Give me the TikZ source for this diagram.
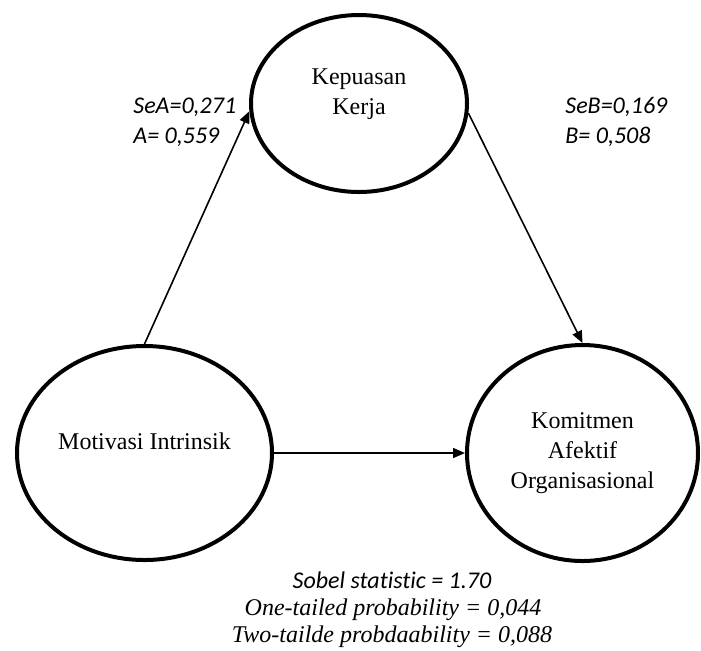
\documentclass[tikz,border=0pt]{standalone}
\usepackage{fontspec}
\setmainfont{Liberation Serif}
\newfontfamily\calibri[Ligatures=NoCommon]{Carlito}
\usepackage{tikz}
\usetikzlibrary{shapes,arrows.meta}

\begin{document}
\begin{tikzpicture}[x=0.5pt,y=-0.5pt,>={Triangle[length=6pt,width=5pt]}]
		\tikzstyle{latent}=[ellipse,draw,line width=2pt,inner sep=0pt,align=center,text centered,font=\fontsize{12pt}{15pt}\selectfont]
		\tikzstyle{effect}=[->,line width=0.8pt]
		\tikzstyle{coef}=[anchor=base west,inner sep=0pt,font=\calibri\itshape\fontsize{12pt}{15pt}\selectfont]
		\tikzstyle{note}=[anchor=base,inner sep=0pt,font=\fontsize{12pt}{15pt}\selectfont\itshape]
		\useasboundingbox (0,0) rectangle (701,650);
		
		\node[latent,minimum width=108pt,minimum height=88.5pt,text depth=12pt] (kep) at (359,103.5) {Kepuasan\\Kerja};
		\node[latent,minimum width=127.5pt,minimum height=107pt,text depth=12pt] (mot) at (144.5,453) {Motivasi Intrinsik};
		\node[latent,minimum width=115.5pt,minimum height=108pt] (kom) at (582.5,453) {Komitmen\\Afektif\\Organisasional};
		
		\node[coef] (sea) at (133,113) {SeA=0,271};
		\node[coef] (a) at (133,143) {A= 0,559};
		\node[coef] (seb) at (565,113) {SeB=0,169};
		\node[coef] (b) at (565,143) {B= 0,508};
		
		\node[note,font=\calibri\itshape\fontsize{12pt}{15pt}\selectfont] (sobel) at (392,588) {Sobel statistic = 1.70};
		\node[note] (one) at (393,615) {One-tailed probability = 0,044};
		\node[note] (two) at (392,642) {Two-tailde probdaability = 0,088};
		
		\draw[effect] (mot.north) -- (kep.184);
		\draw[effect] (kep.355) -- (kom.north);
		\draw[effect] (mot.east) -- (kom.west);
		
	\end{tikzpicture}
\end{document}
